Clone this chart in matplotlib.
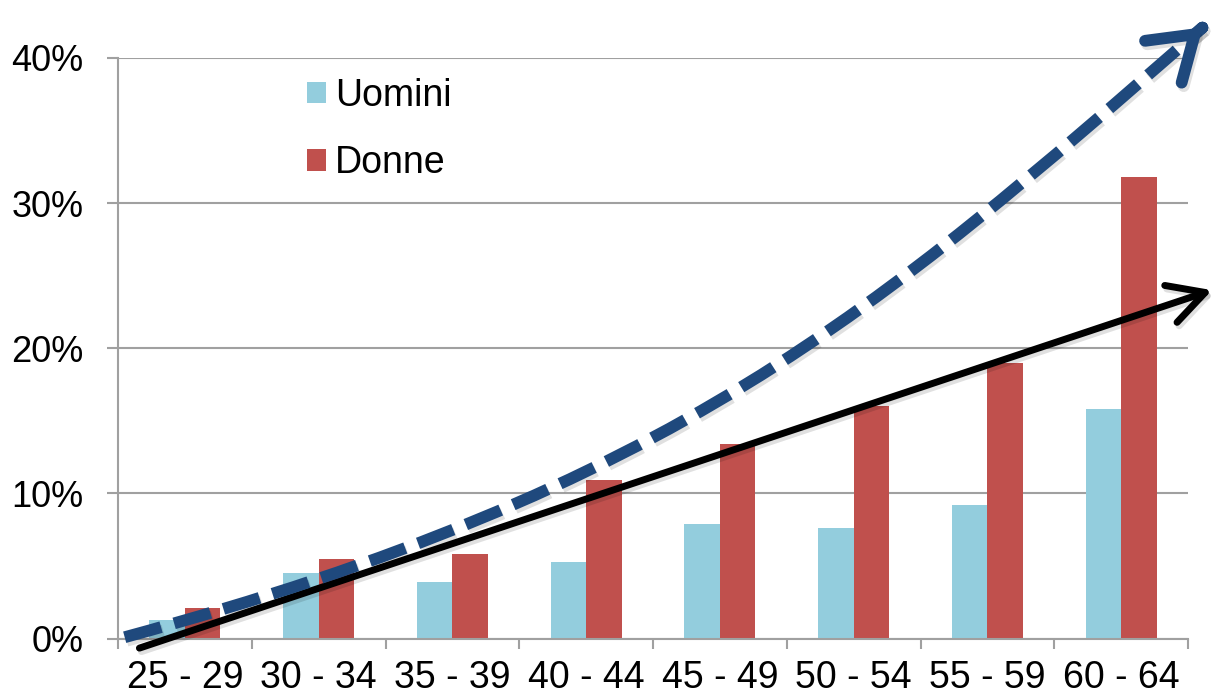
import matplotlib
matplotlib.use("Agg")
import matplotlib.pyplot as plt
import matplotlib.patheffects as pe
from matplotlib.patches import PathPatch, FancyArrowPatch, ArrowStyle
from matplotlib.path import Path
from matplotlib.ticker import FixedLocator, PercentFormatter
import numpy as np

plt.rcParams["font.family"] = ["Liberation Sans", "DejaVu Sans"]

age_groups = ["25 - 29", "30 - 34", "35 - 39", "40 - 44",
              "45 - 49", "50 - 54", "55 - 59", "60 - 64"]
uomini = [1.3, 4.5, 3.9, 5.3, 7.9, 7.6, 9.2, 15.8]
donne = [2.1, 5.5, 5.8, 10.9, 13.4, 16.0, 19.0, 31.8]

# trend arrows, in (category index, percent) units
dashed_pts = [(-0.45, 0.1), (3.66, 10.4), (5.15, 22.3), (7.61, 42.1)]
solid_start = (-0.34, -0.65)
solid_tip = (7.68, 24.0)

COL_U = "#93CDDD"
COL_D = "#C0504D"
COL_BLUE = "#1F497D"
COL_GRID = "#A0A0A0"

fig = plt.figure(figsize=(12.14, 6.99), dpi=100)
ax = fig.add_axes([0.0972, 0.0863, 0.8814, 0.831])

x = np.arange(len(age_groups))
w = 0.265
ax.bar(x - w / 2, uomini, w, color=COL_U, label="Uomini", zorder=2)
ax.bar(x + w / 2, donne, w, color=COL_D, label="Donne", zorder=2)

ax.set_xlim(-0.5, len(age_groups) - 0.5)
ax.set_ylim(0, 40)
ax.yaxis.set_major_locator(FixedLocator([0, 10, 20, 30, 40]))
ax.yaxis.set_major_formatter(PercentFormatter(decimals=0))
ax.grid(axis="y", color=COL_GRID, linewidth=1.5, zorder=0)
ax.set_axisbelow(True)

ax.set_xticks(x)
ax.set_xticklabels(age_groups)
ax.set_xticks(np.arange(len(age_groups) + 1) - 0.5, minor=True)
ax.tick_params(axis="x", which="major", length=0, pad=15.5, labelsize=27)
ax.tick_params(axis="x", which="minor", direction="out", length=7.5,
               width=1.5, color=COL_GRID)
ax.tick_params(axis="y", direction="out", length=8, width=1.5,
               color=COL_GRID, pad=17, labelsize=26)

for side in ["top", "right"]:
    ax.spines[side].set_visible(False)
for side in ["left", "bottom"]:
    ax.spines[side].set_color(COL_GRID)
    ax.spines[side].set_linewidth(1.5)

ax.legend(loc="upper left", bbox_to_anchor=(0.1766, 0.9655), frameon=False,
          fontsize=27, handlelength=0.51, handleheight=0.51,
          handletextpad=0.24, labelspacing=0.84, borderpad=0,
          borderaxespad=0)

shadow = [pe.SimpleLineShadow(offset=(1.5, -2.5), shadow_color="black",
                              alpha=0.12), pe.Normal()]

# dashed curved arrow
curve = Path(dashed_pts, [Path.MOVETO, Path.CURVE4, Path.CURVE4, Path.CURVE4])
ax.add_patch(PathPatch(curve, fill=False, edgecolor=COL_BLUE, linewidth=8.5,
                       linestyle=(0, (3.2, 1.15)), capstyle="butt",
                       clip_on=False, zorder=4, path_effects=shadow))
tip = dashed_pts[-1]
ctrl = dashed_pts[-2]
near_tip = (tip[0] + 0.002 * (ctrl[0] - tip[0]),
            tip[1] + 0.002 * (ctrl[1] - tip[1]))
ax.add_patch(FancyArrowPatch(near_tip, tip,
                             arrowstyle=ArrowStyle("->", head_length=30, head_width=20),
                             mutation_scale=1, color=COL_BLUE, linewidth=8.5,
                             capstyle="round", joinstyle="round",
                             shrinkA=0, shrinkB=0, clip_on=False, zorder=5,
                             path_effects=shadow))

# straight solid arrow
ax.add_patch(FancyArrowPatch(solid_start, solid_tip,
                             arrowstyle=ArrowStyle("->", head_length=26, head_width=14),
                             mutation_scale=1, color="black", linewidth=5,
                             capstyle="round", joinstyle="round",
                             shrinkA=0, shrinkB=0, clip_on=False, zorder=3,
                             path_effects=shadow))

fig.savefig("out.png", dpi=100)
